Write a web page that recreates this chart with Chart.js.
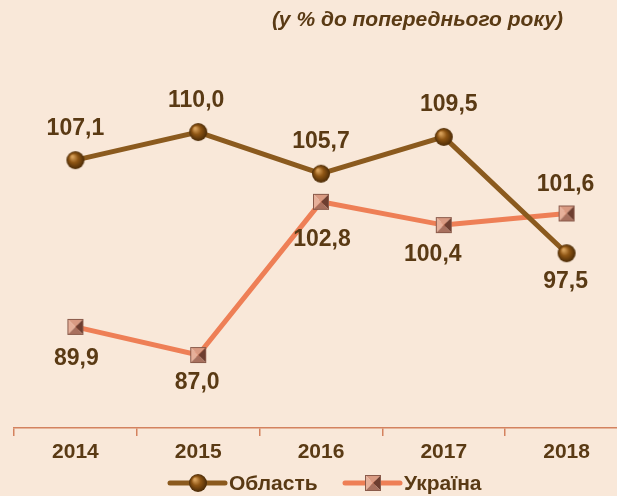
<!DOCTYPE html>
<html><head><meta charset="utf-8">
<script src="https://cdn.jsdelivr.net/npm/chart.js@4.4.0/dist/chart.umd.min.js"></script>
<style>
html,body{margin:0;padding:0;background:#F9E8D9;overflow:hidden;}
#wrap{position:absolute;left:0;top:0;width:617px;height:496px;overflow:hidden;}
canvas{display:block;}
</style></head>
<body>
<div id="wrap"><canvas id="c" width="642" height="496"></canvas></div>
<script>
const categories = ['2014','2015','2016','2017','2018'];
const oblast = [107.1, 110.0, 105.7, 109.5, 97.5];
const ukraine = [89.9, 87.0, 102.8, 100.4, 101.6];
const seriesNames = ['Область', 'Україна'];
const titleText = '(у % до попереднього року)';

// label placement (style): [dx, dy] relative to point
const oblastLabelPos = [[0,-31],[-2,-31],[0,-32],[5,-32],[-1,28]];
const ukraineLabelPos = [[1,32],[-1,28],[1,38],[-11,30],[-1,-29]];

const TEXT = '#5A3A14';
const BROWN = '#8B5A1E';
const ORANGE = '#EE7F56';
const FONT = '"Liberation Sans", Arial, sans-serif';

function makeSphere(r){
  const c = document.createElement('canvas');
  c.width = c.height = r*2+2;
  const g = c.getContext('2d');
  const cx = r+1, cy = r+1;
  const grad = g.createRadialGradient(cx - r*0.35, cy - r*0.4, r*0.1, cx, cy, r);
  grad.addColorStop(0, '#D7A05A');
  grad.addColorStop(0.45, '#8E5514');
  grad.addColorStop(1, '#4A2A06');
  g.fillStyle = grad;
  g.beginPath(); g.arc(cx, cy, r, 0, Math.PI*2); g.fill();
  return c;
}
function makePyramid(s){
  const c = document.createElement('canvas');
  c.width = c.height = s+2;
  const g = c.getContext('2d');
  const x0=1,y0=1,x1=s+1,y1=s+1,mx=(x0+x1)/2,my=(y0+y1)/2;
  function tri(a,b,col){g.fillStyle=col;g.beginPath();g.moveTo(a[0],a[1]);g.lineTo(b[0],b[1]);g.lineTo(mx,my);g.closePath();g.fill();}
  tri([x0,y0],[x1,y0],'#D99A82');
  tri([x0,y0],[x0,y1],'#E6B09A');
  tri([x1,y0],[x1,y1],'#6E3E30');
  tri([x0,y1],[x1,y1],'#A8705E');
  g.strokeStyle='#8A5A4A'; g.lineWidth=1; g.strokeRect(x0+0.5,y0+0.5,s-1,s-1);
  return c;
}
const sphere = makeSphere(9);
const pyramid = makePyramid(16);

const labelPlugin = {
  id:'labels',
  afterDatasetsDraw(chart){
    const ctx = chart.ctx;
    ctx.save();
    ctx.fillStyle = TEXT;
    ctx.font = 'bold 23px ' + FONT;
    ctx.textAlign = 'center';
    ctx.textBaseline = 'middle';
    const pos = [oblastLabelPos, ukraineLabelPos];
    chart.data.datasets.forEach((ds, di) => {
      const meta = chart.getDatasetMeta(di);
      meta.data.forEach((pt, i) => {
        const txt = ds.data[i].toFixed(1).replace('.', ',');
        ctx.fillText(txt, pt.x + pos[di][i][0], pt.y + pos[di][i][1]);
      });
    });
    // title
    ctx.font = 'italic bold 21px ' + FONT;
    ctx.textAlign = 'right';
    ctx.fillText(titleText, 563, 20);
    // legend
    ctx.textAlign = 'left';
    ctx.font = 'bold 21px ' + FONT;
    const items = [
      {x:170, color:BROWN, img:sphere, name:seriesNames[0]},
      {x:345, color:ORANGE, img:pyramid, name:seriesNames[1]}
    ];
    const ly = 483;
    items.forEach(it => {
      ctx.strokeStyle = it.color; ctx.lineWidth = 5; ctx.lineCap='round';
      ctx.beginPath(); ctx.moveTo(it.x, ly); ctx.lineTo(it.x+55, ly); ctx.stroke();
      ctx.drawImage(it.img, it.x+28-it.img.width/2, ly-it.img.height/2);
      ctx.fillText(it.name, it.x+59, ly+1);
    });
    ctx.restore();
  }
};

new Chart(document.getElementById('c'), {
  type:'line',
  data:{
    labels: categories,
    datasets:[
      {label:seriesNames[0], data:oblast, borderColor:BROWN, borderWidth:5, pointStyle:sphere, pointRadius:9, pointHoverRadius:9, tension:0},
      {label:seriesNames[1], data:ukraine, borderColor:ORANGE, borderWidth:5, pointStyle:pyramid, pointRadius:9, pointHoverRadius:9, tension:0}
    ]
  },
  options:{
    responsive:false,
    animation:false,
    events:[],
    layout:{padding:{left:14, right:3, top:60, bottom:0}},
    plugins:{legend:{display:false}, tooltip:{enabled:false}, title:{display:false}},
    scales:{
      x:{
        offset:true,
        grid:{display:true, offset:true, drawOnChartArea:false, drawTicks:true, tickLength:8, color:'#D4825F', lineWidth:1.5},
        border:{display:true, color:'#D4825F', width:1.5},
        ticks:{color:TEXT, font:{family:FONT, size:21, weight:'bold'}, padding:4},
        afterFit(s){ s.height = 68; }
      },
      y:{display:false, min:79.47, max:117.43}
    }
  },
  plugins:[labelPlugin]
});
</script>
</body></html>
